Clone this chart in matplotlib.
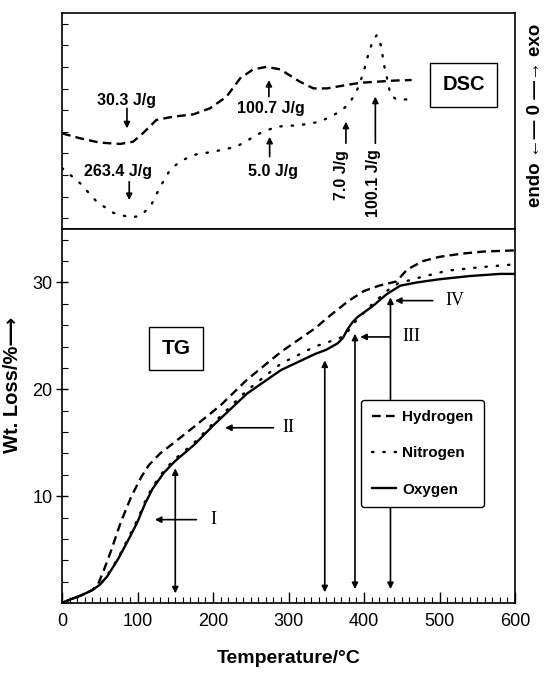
import matplotlib
matplotlib.use("Agg")
import matplotlib.pyplot as plt
from matplotlib.ticker import MultipleLocator

plt.rcParams["font.family"] = ["Liberation Sans", "DejaVu Sans"]

# --- DSC traces (arbitrary heat-flow units) ---
dsc_h2_t = [0, 24, 50, 77, 94, 107, 125, 147, 174, 196, 218, 236, 253, 271, 289,
            315, 333, 351, 377, 395, 417, 439, 463]
dsc_h2_v = [4.43, 4.20, 4.00, 3.94, 4.04, 4.43, 5.05, 5.20, 5.31, 5.59, 6.13, 6.98,
            7.39, 7.51, 7.39, 6.82, 6.51, 6.51, 6.67, 6.77, 6.82, 6.87, 6.90]
dsc_n2_t = [0, 6, 24, 46, 68, 90, 103, 117, 130, 143, 156, 174, 200, 231, 262, 284,
            315, 342, 364, 379, 390, 399, 406, 412, 417, 423, 426, 430, 435, 443, 463]
dsc_n2_v = [2.82, 2.65, 2.12, 1.26, 0.75, 0.54, 0.60, 1.03, 1.96, 2.73, 3.12, 3.43,
            3.58, 3.81, 4.43, 4.74, 4.81, 4.97, 5.36, 5.74, 6.36, 7.21, 8.13, 8.75,
            8.98, 8.44, 7.67, 7.05, 6.20, 6.00, 6.00]

# --- TG traces (wt. loss %) ---
tg_o2_t = [0, 10, 25, 40, 50, 60, 75, 90, 100, 110, 120, 135, 150, 175, 200, 245,
           290, 335, 350, 365, 372, 378, 385, 392, 410, 430, 448, 470, 500, 540, 580, 600]
tg_o2_w = [0, 0.3, 0.7, 1.2, 1.7, 2.5, 4.2, 6.2, 7.6, 9.3, 10.7, 12.2, 13.3, 14.8,
           16.6, 19.6, 21.8, 23.3, 23.7, 24.3, 24.8, 25.6, 26.3, 26.8, 27.7, 28.9,
           29.7, 30.0, 30.3, 30.6, 30.8, 30.8]
tg_h2_t = [0, 10, 25, 40, 48, 55, 65, 78, 92, 105, 115, 130, 150, 175, 210, 245,
           290, 335, 355, 380, 400, 420, 443, 457, 478, 500, 530, 560, 600]
tg_h2_w = [0, 0.3, 0.7, 1.2, 1.8, 3.0, 4.9, 7.6, 10.0, 11.8, 12.9, 14.0, 15.1, 16.5,
           18.5, 20.9, 23.5, 25.7, 26.9, 28.3, 29.2, 29.7, 30.1, 31.2, 32.0, 32.4,
           32.7, 32.9, 33.0]
tg_n2_t = [0, 10, 25, 40, 50, 60, 75, 90, 100, 110, 120, 135, 150, 175, 200, 245,
           290, 335, 360, 375, 383, 392, 410, 430, 445, 470, 510, 550, 600]
tg_n2_w = [0, 0.3, 0.7, 1.2, 1.7, 2.6, 4.3, 6.4, 7.8, 9.5, 10.9, 12.4, 13.5, 15.0,
           16.8, 19.9, 22.4, 24.0, 24.6, 25.0, 25.9, 26.6, 27.9, 29.2, 29.9, 30.4,
           31.1, 31.4, 31.7]

# DSC peak annotations: label, text (T, v), arrow T, arrow from, arrow to, rotation
dsc_notes = [
    ("30.3 J/g", 86, 5.97, 86, 5.59, 4.66, 0),
    ("263.4 J/g", 74, 2.65, 89, 2.19, 1.34, 0),
    ("100.7 J/g", 277, 5.59, 274, 6.13, 6.90, 0),
    ("5.0 J/g", 280, 2.65, 275, 3.35, 4.27, 0),
    ("7.0 J/g", 370, 2.50, 376, 3.97, 4.97, 90),
    ("100.1 J/g", 412, 2.12, 415, 3.97, 6.13, 90),
]

# TG stage markers: temperature, bottom, top of double arrow
stage_temps = [150, 348, 388, 435]
stage_lo = [0.9, 1.0, 1.3, 1.3]
stage_hi = [12.6, 22.7, 25.2, 28.6]

# stage labels: label, text T, W, arrow from T, arrow to T
stage_labels = [
    ("I", 200, 7.8, 178, 123),
    ("II", 300, 16.4, 280, 216),
    ("III", 463, 24.9, 434, 395),
    ("IV", 520, 28.3, 491, 441),
]

fig = plt.figure(figsize=(5.46, 6.75), dpi=100)
ax_dsc = fig.add_axes([0.1136, 0.6607, 0.8297, 0.3200])
ax_tg = fig.add_axes([0.1136, 0.1067, 0.8297, 0.5540])

dash = (0, (3.7, 2.2))
dot = (0, (0.6, 4.2))

# DSC panel
ax_dsc.plot(dsc_h2_t, dsc_h2_v, color="k", lw=1.7, ls=dash)
ax_dsc.plot(dsc_n2_t, dsc_n2_v, color="k", lw=1.7, ls=dot, dash_capstyle="round")
ax_dsc.set_xlim(0, 600)
ax_dsc.set_ylim(0, 10)
ax_dsc.set_xticks([])
ax_dsc.set_yticks([i + 0.5 for i in range(10)])
ax_dsc.tick_params(axis="y", direction="in", length=4, labelleft=False)

arrow_kw = dict(arrowstyle="-|>", color="k", lw=1.2, mutation_scale=9,
                shrinkA=0, shrinkB=0)
for label, tx, ty, ax_t, a0, a1, rot in dsc_notes:
    ax_dsc.text(tx, ty, label, ha="center", va="center", fontsize=11.5,
                fontweight="bold", rotation=rot)
    ax_dsc.annotate("", xy=(ax_t, a1), xytext=(ax_t, a0), arrowprops=arrow_kw)

ax_dsc.text(532, 6.67, "DSC", ha="center", va="center", fontsize=14.5,
            fontweight="bold",
            bbox=dict(boxstyle="square,pad=0.62", fc="white", ec="k", lw=1.0))

fig.text(535 / 546, 1 - 115 / 675, "endo \u2190\u2014 0 \u2014\u2192 exo",
         rotation=90, ha="center", va="center", fontsize=13.5, fontweight="bold")

# TG panel
l_h2, = ax_tg.plot(tg_h2_t, tg_h2_w, color="k", lw=1.7, ls=dash, label="Hydrogen")
l_n2, = ax_tg.plot(tg_n2_t, tg_n2_w, color="k", lw=1.7, ls=dot,
                   dash_capstyle="round", label="Nitrogen")
l_o2, = ax_tg.plot(tg_o2_t, tg_o2_w, color="k", lw=1.7, label="Oxygen")
ax_tg.set_xlim(0, 600)
ax_tg.set_ylim(0, 35)
ax_tg.set_xticks(range(0, 601, 100))
ax_tg.set_yticks([10, 20, 30])
ax_tg.xaxis.set_minor_locator(MultipleLocator(10))
ax_tg.yaxis.set_minor_locator(MultipleLocator(2))
ax_tg.tick_params(axis="x", which="major", direction="in", length=8, width=1,
                  labelsize=13, pad=7)
ax_tg.tick_params(axis="x", which="minor", direction="in", length=4, width=0.8)
ax_tg.tick_params(axis="y", which="major", direction="inout", length=8, width=1,
                  labelsize=13, pad=3)
ax_tg.tick_params(axis="y", which="minor", direction="in", length=4, width=0.8)

ax_tg.set_xlabel("Temperature/\u00b0C", fontsize=14, fontweight="bold")
ax_tg.xaxis.set_label_coords(0.5, -0.125)
ax_tg.set_ylabel("Wt. Loss/%\u27f6", fontsize=14.5, fontweight="bold")
ax_tg.yaxis.set_label_coords(-0.088, 0.584)

dbl_kw = dict(arrowstyle="<|-|>", color="k", lw=1.2, mutation_scale=9,
              shrinkA=0, shrinkB=0)
for t, lo, hi in zip(stage_temps, stage_lo, stage_hi):
    ax_tg.annotate("", xy=(t, hi), xytext=(t, lo), arrowprops=dbl_kw)

for label, tx, ty, a0, a1 in stage_labels:
    ax_tg.text(tx, ty, label, ha="center", va="center", fontsize=13,
               family="Liberation Serif")
    ax_tg.annotate("", xy=(a1, ty), xytext=(a0, ty), arrowprops=arrow_kw)

ax_tg.text(151, 23.8, "TG", ha="center", va="center", fontsize=15,
           fontweight="bold",
           bbox=dict(boxstyle="square,pad=0.58", fc="white", ec="k", lw=1.0))

leg = ax_tg.legend(handles=[l_h2, l_n2, l_o2], loc="upper left",
                   bbox_to_anchor=(0.66, 0.544), borderaxespad=0,
                   prop=dict(size=11, weight="bold"),
                   handlelength=1.6, handletextpad=0.4, labelspacing=1.45,
                   borderpad=0.7, fancybox=True, framealpha=1, edgecolor="k")
leg.get_frame().set_linewidth(1.0)
leg.set_zorder(6)

for ax in (ax_dsc, ax_tg):
    for s in ax.spines.values():
        s.set_linewidth(1.2)

fig.savefig("out.png", dpi=100)
